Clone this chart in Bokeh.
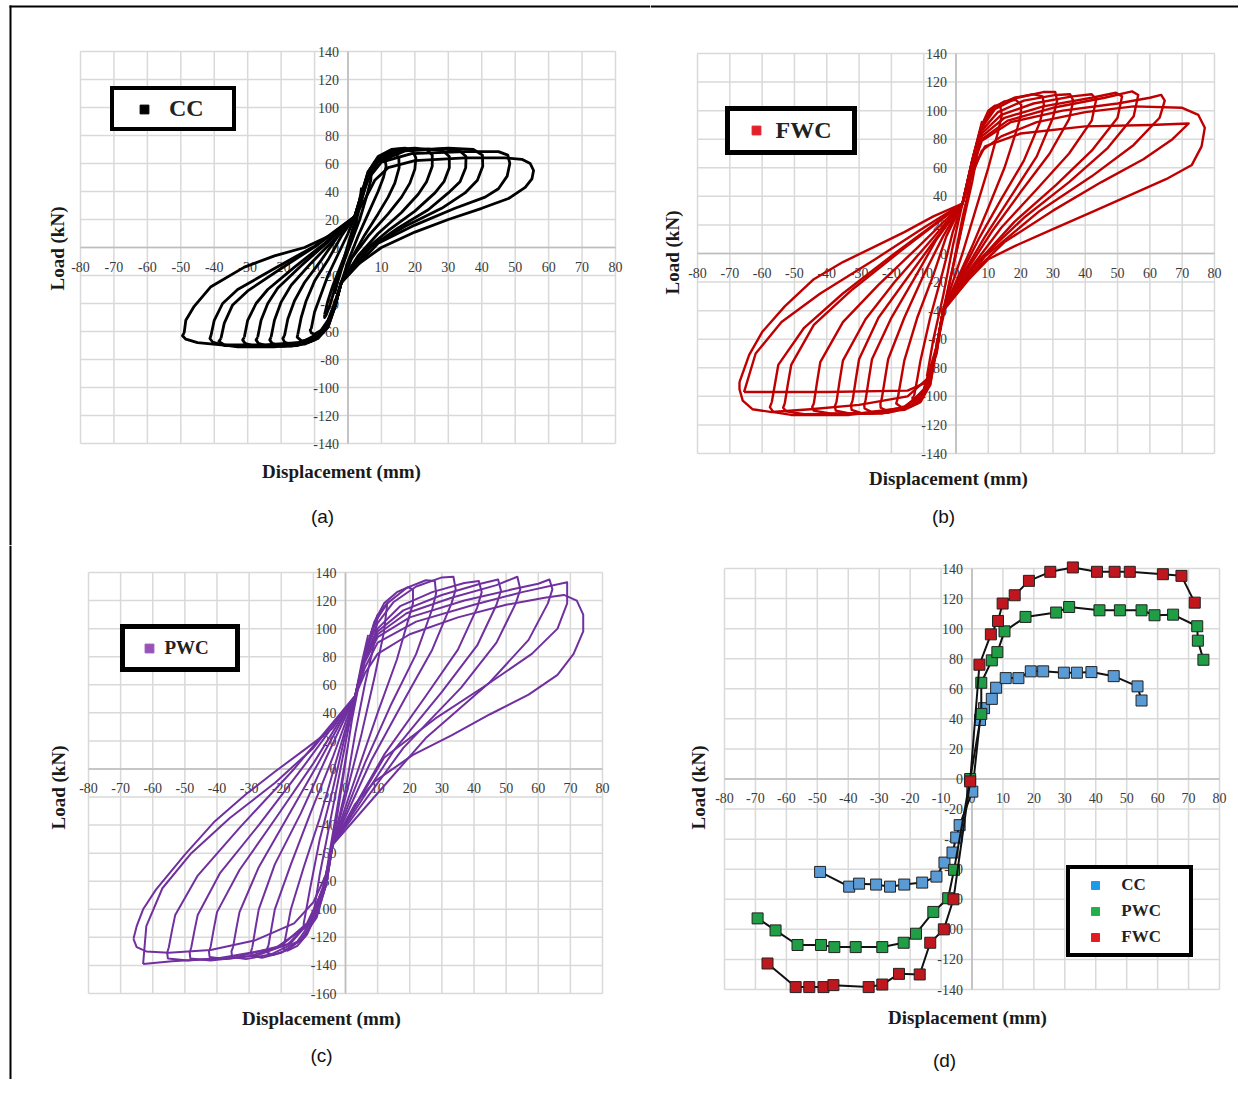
import math
from bokeh.plotting import figure
from bokeh.models import Range1d, Legend, LegendItem
from bokeh.layouts import row, column
from bokeh.embed import file_html
from bokeh.resources import INLINE
from bokeh.core.properties import value

# ---------------- data ----------------
X_TICKS = [-80, -70, -60, -50, -40, -30, -20, -10, 0, 10, 20, 30, 40, 50, 60, 70, 80]
Y_TICKS_140 = [-140, -120, -100, -80, -60, -40, -20, 0, 20, 40, 60, 80, 100, 120, 140]
Y_TICKS_C = [-160, -140, -120, -100, -80, -60, -40, -20, 0, 20, 40, 60, 80, 100, 120, 140]

# (a) CC hysteresis cycles (displacement mm, load kN)
cc_1 = [(-4,-33),(-3,-24),(-2,-16),(0,-2),(2,14),(3,28),(3.8,38),(4,42),(3.6,34),(2.5,22),(1,10),(-1,-6),(-3,-22),(-3.8,-30),(-4,-33)]
cc_2 = [(-7,-48),(-6,-38),(-4.5,-27),(-2,-12),(1,6),(3,24),(5,42),(6.5,52),(7,55),(6.8,48),(5.5,36),(3.5,20),(1,4),(-2,-14),(-4,-30),(-5.5,-42),(-6.5,-48),(-7,-50),(-7,-48)]
cc_3 = [(-11,-58),(-10,-46),(-8,-33),(-6,-20),(-3,-5),(0,10),(2,22),(4,38),(6,52),(8,61),(10,65.5),(11,64),(11.4,58),(10.6,50),(9,40),(6,24),(3,8),(0,-10),(-2,-25),(-4,-40),(-6,-52),(-8,-59),(-10,-62),(-11,-61),(-11.3,-59),(-11,-58)]
cc_4 = [(-15,-62),(-14,-50),(-12.5,-38),(-10,-24),(-6,-9),(-2,8),(2,22),(4,38),(6,54),(9,64),(12,67.5),(14,67.5),(15.2,64),(15.3,57),(14,46),(12,36),(9,24),(5,9),(1,-8),(-2,-25),(-4,-42),(-6,-56),(-9,-64),(-12,-67),(-14,-66.5),(-15.2,-64),(-15,-62)]
cc_5 = [(-19,-63),(-18,-51),(-16,-38),(-13,-25),(-8,-9),(-3,8),(2,22),(4,38),(6,54),(9,65),(13,70),(17,71),(19.3,69),(20.3,64),(20,56),(18.5,46),(16,36),(12,24),(6,8),(1,-8),(-2,-25),(-4,-43),(-6,-57),(-9,-65),(-13,-69),(-17,-69.5),(-19,-67.5),(-19.5,-65),(-19,-63)]
cc_6 = [(-23,-64),(-22,-52),(-20,-39),(-17,-27),(-11,-11),(-4,6),(2,22),(4,37),(6,53),(9,64),(14,70),(20,71),(23.5,70),(25.2,66),(25.2,58),(23.5,47),(21,38),(16,25),(9,10),(3,-6),(-2,-25),(-4,-43),(-6,-57),(-10,-66),(-15,-70),(-20,-70.5),(-22.7,-68.5),(-23.4,-66),(-23,-64)]
cc_7 = [(-27,-64),(-26,-52),(-24,-40),(-21,-29),(-14,-13),(-6,4),(2,22),(4,36),(6,52),(9,63),(15,69),(24,70.5),(28.5,69),(30.3,65),(30.3,57),(28.7,47),(26,39),(20,26),(12,12),(4,-4),(-2,-25),(-4,-43),(-7,-58),(-11,-67),(-17,-70.5),(-24,-70.5),(-26.8,-68.5),(-27.5,-66),(-27,-64)]
cc_8 = [(-31,-64),(-30,-52),(-27.5,-40),(-24,-30),(-16,-14),(-7,3),(2,22),(4,36),(6,51),(9,62),(16,69),(28,70.5),(33.5,69),(35.3,65),(35.2,57),(33.5,47),(30,39),(24,27),(15,14),(6,-1),(-2,-25),(-4,-43),(-7,-58),(-12,-67),(-19,-70.5),(-28,-70.5),(-30.8,-68.5),(-31.5,-66),(-31,-64)]
cc_9 = [(-38,-65),(-37,-54),(-34.5,-41),(-30,-31),(-20,-15),(-9,2),(2,22),(4,35),(6,50),(9,61),(17,69),(30,71),(37.5,70),(40.2,66),(40.3,58),(38.7,48),(35,39),(28,28),(17,15),(7,1),(-2,-25),(-4,-43),(-7,-59),(-13,-68),(-22,-71),(-33,-71),(-37,-69.5),(-38.6,-67),(-38,-65)]
cc_10 = [(-41,-63),(-40,-52),(-37.5,-40),(-33,-30),(-22,-15),(-10,1),(2,22),(4,34),(6,49),(10,61),(19,67),(35,68.5),(45,68.5),(47.8,66),(48.4,60),(47.6,51),(45,42),(41,36),(32,28),(20,16),(9,3),(-2,-25),(-4,-43),(-7,-59),(-14,-68),(-26,-70.5),(-37,-70),(-40.5,-67.5),(-41.3,-65),(-41,-63)]
cc_11 = [(-49,-61),(-48.5,-52),(-46,-42),(-41,-28),(-31,-14),(-22,-6),(-13,0),(-5,9),(2,22),(5,34),(8,48),(12,57),(20,62),(35,64),(47,64),(52,63),(54.5,60),(55.5,55),(55,49),(53,43),(48,35),(40,28),(30,20),(20,11),(10,0),(3,-12),(-2,-25),(-4,-40),(-6,-53),(-9,-63),(-15,-68),(-25,-69.5),(-38,-69.5),(-45,-68),(-48.5,-65.5),(-49.5,-63),(-49,-61)]
CC_CYCLES = [cc_1, cc_2, cc_3, cc_4, cc_5, cc_6, cc_7, cc_8, cc_9, cc_10, cc_11]

# (b) FWC hysteresis cycles
fwc_1 = [(-6,-65),(-4,-45),(-1,-10),(2,25),(4,45),(5,60),(4,45),(1,10),(-2,-20),(-4,-42),(-6,-65)]
fwc_2 = [(-9,-86),(-7,-60),(-4,-30),(-1,5),(2,35),(5,65),(8,92),(7,75),(5,50),(2,20),(-1,-10),(-4,-40),(-6,-65),(-8,-85),(-9,-86)]
fwc_3 = [(-13,-100),(-12,-88),(-11,-75),(-8,-45),(-4,-12),(-1,15),(2,35),(5,65),(8,90),(10,100),(12,103.5),(13.7,103),(14.2,97),(13,85),(10,60),(6,30),(2,0),(-1,-20),(-4,-40),(-6,-65),(-8,-88),(-10,-99),(-12,-103.5),(-13.3,-103),(-13.5,-101),(-13,-100)]
fwc_4 = [(-18,-101),(-17,-88),(-16,-75),(-12,-45),(-7,-15),(-3,12),(2,35),(5,65),(8,90),(11,101),(15,106.5),(18.5,107.5),(20.2,104),(20,96),(19,88),(15,60),(10,32),(5,5),(0,-20),(-4,-40),(-6,-65),(-8,-90),(-11,-102),(-14,-107),(-17,-107.5),(-18.5,-105),(-18,-101)]
fwc_5 = [(-23,-102),(-22,-88),(-21,-74),(-16,-45),(-10,-15),(-4,12),(2,35),(5,65),(8,90),(12,103),(18,109),(24,111.5),(26.8,110),(27.2,104),(26,92),(21,65),(14,38),(7,10),(1,-17),(-4,-40),(-6,-66),(-8,-92),(-11,-104),(-16,-109.5),(-21,-110.5),(-23.3,-108),(-23.4,-105),(-23,-102)]
fwc_6 = [(-28,-103),(-27,-88),(-26,-74),(-20,-45),(-13,-18),(-6,10),(2,35),(5,64),(8,88),(12,101),(19,109),(27,113),(30.7,113),(31.3,107),(30,95),(25,68),(17,40),(9,12),(2,-15),(-4,-40),(-6,-66),(-8,-92),(-12,-105),(-19,-110.5),(-26,-111),(-28.3,-108.5),(-28.4,-106),(-28,-103)]
fwc_7 = [(-32,-103),(-31,-88),(-30,-74),(-24,-45),(-16,-20),(-7,8),(2,35),(5,63),(8,86),(13,99),(21,107),(31,111),(35.3,111.5),(36.3,107),(35,94),(29,70),(20,43),(11,15),(3,-13),(-4,-40),(-6,-67),(-9,-93),(-13,-106),(-21,-111.5),(-29,-112),(-32.3,-109.5),(-32.5,-106),(-32,-103)]
fwc_8 = [(-37,-104),(-36,-89),(-35,-75),(-28,-46),(-19,-20),(-9,6),(2,35),(5,62),(8,84),(14,97),(24,105),(36,110),(42,111.5),(43.4,108),(42,93),(35,70),(25,45),(14,18),(4,-12),(-4,-40),(-6,-67),(-9,-94),(-14,-107),(-23,-112),(-33,-112),(-37.2,-110),(-37.5,-107),(-37,-104)]
fwc_9 = [(-44,-105),(-43,-90),(-42,-76),(-35,-48),(-24,-22),(-12,4),(2,35),(5,61),(8,82),(15,95),(27,103),(42,109),(49.5,112.5),(51.4,110),(50,95),(42,72),(31,48),(18,22),(6,-8),(-4,-40),(-6,-68),(-10,-95),(-15,-107),(-26,-112),(-39,-112),(-44,-110),(-44.5,-107.5),(-44,-105)]
fwc_10 = [(-53,-105),(-52,-91),(-51,-78),(-44,-50),(-32,-25),(-17,2),(2,35),(5,60),(8,80),(16,93),(30,102),(46,109),(54.5,113.5),(56.4,111),(55,96),(47,74),(35,50),(21,25),(7,-5),(-4,-40),(-6,-68),(-10,-96),(-16,-108),(-30,-112),(-47,-112.5),(-52.5,-110.5),(-53.5,-108),(-53,-105)]
fwc_11 = [(-57,-104),(-56,-91),(-55,-78),(-47,-52),(-35,-28),(-19,0),(2,35),(5,59),(8,79),(17,92),(33,100),(50,105),(60,109),(63.5,111),(64.6,107),(63,95),(55,76),(42,54),(26,30),(9,-2),(-4,-40),(-6,-69),(-10,-97),(-17,-109),(-33,-113),(-51,-113),(-56.5,-111),(-57.6,-107.5),(-57,-104)]
fwc_12 = [(-65.6,-97),(-62,-70),(-54,-48),(-42,-28),(-25,-4),(-10,18),(2,35),(5,58),(9,75),(20,84),(40,89),(60,90),(72,91),(67,80),(58,66),(45,50),(30,30),(15,8),(3,-18),(-4,-40),(-6,-70),(-9,-90),(-15,-96),(-40,-97),(-65.6,-97)]
fwc_13 = [(-67,-90),(-64,-71),(-60,-55),(-53,-37),(-44,-18),(-35,-6),(-25,5),(-16,15),(-7,26),(2,35),(5,55),(8,72),(14,82),(25,92),(40,99),(55,103),(70,102),(75,97),(77,88),(76,75),(73,62),(65,52),(53,40),(42,29),(30,17),(18,5),(10,-4),(4,-18),(-4,-40),(-6,-65),(-9,-88),(-15,-100),(-30,-106),(-45,-109),(-57,-111),(-63,-109),(-66,-103),(-67,-95),(-67,-90)]
FWC_CYCLES = [fwc_1, fwc_2, fwc_3, fwc_4, fwc_5, fwc_6, fwc_7, fwc_8, fwc_9, fwc_10, fwc_11, fwc_12, fwc_13]

# (c) PWC hysteresis cycles
pwc_1 = [(-7,-90),(-5,-60),(-2,-20),(1,20),(3,52),(5,75),(7,95),(5,70),(2,35),(-1,-10),(-4,-54),(-6,-75),(-7,-90)]
pwc_2 = [(-10,-104),(-8,-75),(-5,-40),(-2,-5),(1,30),(3,52),(6,80),(8,97),(10,110),(9,90),(6,60),(3,25),(0,-15),(-4,-54),(-6,-78),(-8,-96),(-10,-106),(-10,-104)]
pwc_3 = [(-13,-110),(-11,-85),(-8,-50),(-4,-15),(0,25),(3,52),(6,80),(9,102),(11,113),(13,118),(12,98),(9,65),(5,25),(0,-20),(-4,-54),(-6,-80),(-9,-100),(-11,-110),(-13,-114),(-13,-110)]
pwc_4 = [(-19,-124),(-18,-112),(-17,-100),(-13,-70),(-8,-35),(-3,5),(3,52),(6,82),(9,105),(12,118),(16,126),(19.5,129.5),(21,128),(21,118),(20,110),(16,78),(10,40),(4,0),(-4,-54),(-6,-80),(-9,-103),(-12,-118),(-15,-126),(-18,-129.5),(-19.4,-128),(-19,-124)]
pwc_5 = [(-24,-126),(-23,-113),(-22,-100),(-17,-68),(-11,-32),(-4,8),(3,52),(6,82),(9,104),(13,118),(19,129),(25,134.5),(27.8,134),(28.2,125),(27,114),(22,82),(14,45),(6,4),(-4,-54),(-6,-82),(-9,-105),(-13,-120),(-18,-129),(-22.5,-132.5),(-24.3,-131),(-24.4,-128),(-24,-126)]
pwc_6 = [(-29,-127),(-28,-113),(-27,-100),(-22,-68),(-14,-32),(-6,8),(3,52),(6,82),(10,104),(15,119),(22,130),(30,136.5),(33.6,137),(34.3,128),(33,118),(27,85),(18,48),(8,6),(-4,-54),(-6,-82),(-9,-106),(-14,-122),(-20,-131),(-26,-134.5),(-29.3,-133),(-29.4,-130),(-29,-127)]
pwc_7 = [(-35,-127),(-34,-114),(-33,-102),(-27,-70),(-18,-34),(-8,6),(3,52),(6,80),(10,100),(17,116),(27,126),(37,132.5),(41.5,134),(42.4,126),(41,115),(35,85),(25,52),(12,10),(-4,-54),(-6,-83),(-10,-107),(-15,-123),(-23,-132),(-31,-135.5),(-35.3,-134),(-35.5,-130),(-35,-127)]
pwc_8 = [(-42,-127),(-41,-114),(-40,-102),(-33,-72),(-22,-36),(-10,4),(3,52),(6,79),(10,98),(18,113),(30,124),(42,132),(47.5,135),(48.4,127),(47,117),(41,88),(30,55),(15,13),(-4,-54),(-7,-84),(-11,-108),(-17,-124),(-27,-132.5),(-37,-135.5),(-42.3,-134),(-42.5,-130),(-42,-127)]
pwc_9 = [(-48,-127),(-47,-115),(-46,-104),(-39,-74),(-27,-40),(-13,2),(3,52),(6,78),(10,96),(19,111),(33,122),(47,131),(53.5,137),(54.4,128),(53,118),(47,90),(36,58),(18,15),(-4,-54),(-7,-85),(-11,-109),(-18,-125),(-30,-133.5),(-42,-136.5),(-48.3,-135),(-48.5,-131),(-48,-127)]
pwc_10 = [(-55,-127),(-54,-115),(-53,-104),(-46,-76),(-33,-42),(-16,0),(3,52),(6,76),(10,94),(20,108),(37,120),(52,128),(60,132),(63.5,135),(64.4,128),(63,118),(57,92),(45,62),(25,22),(-4,-54),(-7,-86),(-12,-110),(-20,-126),(-34,-134),(-49,-136.5),(-55.3,-135),(-55.5,-131),(-55,-127)]
pwc_11 = [(-63,-139),(-62,-112),(-57,-85),(-48,-60),(-36,-35),(-22,-10),(-10,15),(3,52),(6,72),(10,90),(22,105),(40,117),(55,126),(69,133),(69,118),(66,100),(58,82),(44,60),(28,36),(12,8),(-4,-54),(-7,-88),(-12,-112),(-22,-128),(-40,-135),(-54,-137),(-63,-139)]
pwc_12 = [(-66,-121),(-65,-112),(-63,-100),(-59,-86),(-50,-61),(-41,-38),(-31,-18),(-22,-2),(-12,15),(-4,29),(3,52),(6,68),(10,82),(20,96),(35,108),(50,117),(62,122),(68,124),(72,120),(74,110),(74,98),(71,82),(66,67),(57,53),(45,39),(33,24),(21,10),(9,-9),(3,-25),(-4,-54),(-6,-75),(-10,-95),(-16,-110),(-28,-122),(-42,-129),(-55,-131),(-62,-130),(-65,-127),(-66,-121)]
PWC_CYCLES = [pwc_1, pwc_2, pwc_3, pwc_4, pwc_5, pwc_6, pwc_7, pwc_8, pwc_9, pwc_10, pwc_11, pwc_12]

# (d) envelope curves
env_cc_x = [-49.1, -39.7, -36.5, -31.0, -26.5, -21.9, -16.1, -11.5, -8.9, -6.3, -5.1, -4.0, 0.1, 2.6, 3.9, 6.4, 7.8, 10.9, 15.0, 19.0, 23.0, 29.7, 33.9, 38.6, 45.8, 53.5, 54.8]
env_cc_y = [-61.8, -71.6, -69.6, -70.2, -71.6, -70.2, -68.9, -64.9, -55.6, -48.9, -38.9, -30.7, -8.4, 39.3, 47.1, 53.3, 60.7, 67.1, 67.1, 71.6, 71.6, 70.7, 70.7, 71.1, 68.4, 61.6, 52.2]
env_pwc_x = [-69.3, -63.5, -56.4, -48.8, -44.5, -37.6, -29.0, -22.1, -18.1, -12.5, -7.7, -5.8, -0.6, 3.0, 3.0, 6.4, 8.2, 10.5, 17.3, 27.2, 31.4, 41.2, 47.8, 54.8, 59.0, 65.0, 72.8, 73.0, 74.8]
env_pwc_y = [-92.7, -100.7, -110.4, -110.4, -111.8, -111.8, -111.8, -108.9, -102.9, -88.4, -79.3, -60.4, 0.0, 43.3, 64.0, 78.9, 84.4, 98.2, 107.8, 110.7, 114.4, 112.2, 112.2, 112.2, 108.9, 109.3, 101.6, 92.0, 79.3]
env_fwc_x = [-66.1, -57.0, -52.6, -48.0, -44.8, -33.4, -29.0, -23.6, -16.9, -13.5, -9.1, -6.0, -0.6, 2.4, 6.1, 8.4, 9.9, 13.8, 18.4, 25.3, 32.6, 40.4, 46.1, 51.0, 61.7, 67.7, 72.0]
env_fwc_y = [-122.7, -138.4, -138.4, -138.4, -137.1, -138.4, -136.7, -129.6, -130.0, -108.9, -100.0, -80.0, -1.6, 76.0, 96.2, 105.1, 116.7, 122.2, 131.8, 137.8, 140.7, 137.8, 137.8, 137.8, 136.2, 135.1, 117.3]

# ---------------- style ----------------
SERIF = "Liberation Serif"
SANS = "Liberation Sans"
GRID_COLOR = "#d9d9d9"
AXIS_COLOR = "#bdbdbd"
TICK_COLOR = "#3a3a3a"
TITLE_COLOR = "#1a1a1a"


def make_panel(box, grid, ylo, yhi, yticks):
    fl, ft, fw, fh = box
    gx0, gx1, gy0, gy1 = grid
    ppx = (gx1 - gx0) / 160.0
    ppy = (gy1 - gy0) / float(yhi - ylo)
    xs = -80 - (gx0 - fl) / ppx
    xe = 80 + (fl + fw - gx1) / ppx
    ye = yhi + (gy0 - ft) / ppy
    ys = ylo - (ft + fh - gy1) / ppy
    p = figure(frame_width=fw, frame_height=fh, min_border=0,
               x_range=Range1d(xs, xe), y_range=Range1d(ys, ye),
               x_axis_location=None, y_axis_location=None,
               toolbar_location=None, output_backend="svg", title=None,
               outline_line_color=None, background_fill_color="white",
               border_fill_color="white")
    p.xgrid.visible = False
    p.ygrid.visible = False

    def X(px):
        return -80 + (px - gx0) / ppx

    def Y(py):
        return yhi - (py - gy0) / ppy

    n = len(X_TICKS)
    m = len(yticks)
    p.segment(x0=X_TICKS, y0=[ylo] * n, x1=X_TICKS, y1=[yhi] * n,
              line_color=GRID_COLOR, line_width=1.5)
    p.segment(x0=[-80] * m, y0=yticks, x1=[80] * m, y1=yticks,
              line_color=GRID_COLOR, line_width=1.5)
    p.segment(x0=[-80, 0], y0=[0, ylo], x1=[80, 0], y1=[0, yhi],
              line_color=AXIS_COLOR, line_width=1.6)
    p.text(x=X_TICKS, y=[0] * n, text=[str(t) for t in X_TICKS],
           text_font=value(SERIF), text_font_size="14px", text_color=TICK_COLOR,
           text_align="center", text_baseline="middle", y_offset=19)
    p.text(x=[0] * m, y=yticks, text=[str(t) for t in yticks],
           text_font=value(SERIF), text_font_size="14px", text_color=TICK_COLOR,
           text_align="right", text_baseline="middle", x_offset=-9)
    return p, X, Y


def add_titles(p, X, Y, load_xy, disp_xy, cap_xy, cap):
    p.text(x=[X(load_xy[0])], y=[Y(load_xy[1])], text=["Load (kN)"], angle=math.pi / 2,
           text_font=value(SERIF), text_font_style="bold", text_font_size="19px",
           text_color=TITLE_COLOR, text_align="center", text_baseline="middle")
    p.text(x=[X(disp_xy[0])], y=[Y(disp_xy[1])], text=["Displacement (mm)"],
           text_font=value(SERIF), text_font_style="bold", text_font_size="19px",
           text_color=TITLE_COLOR, text_align="center", text_baseline="middle")
    p.text(x=[X(cap_xy[0])], y=[Y(cap_xy[1])], text=[cap],
           text_font=value(SANS), text_font_size="19px",
           text_color="#111111", text_align="center", text_baseline="middle")


def add_legend(p, box, entries, outer, bw, pad, gw, gh, standoff, lw, fsize, spacing=0):
    fl, ft, fw, fh = box
    ox0, ox1, oy0, oy1 = outer
    bl = ox0 + bw / 2.0 - 2
    bb = oy1 - bw / 2.0 + 2
    items = []
    far_x = p.x_range.start - 1000
    far_y = p.y_range.start - 1000
    for label, color in entries:
        # legend swatch renderer (its only point lies far outside the visible frame)
        r = p.scatter(x=[far_x], y=[far_y], marker="square", size=9, fill_color=color, line_color=color)
        items.append(LegendItem(label=label, renderers=[r]))
    leg = Legend(items=items, location=(bl - fl, ft + fh - bb), orientation="vertical",
                 border_line_color="black", border_line_width=bw, border_line_alpha=1.0,
                 background_fill_color="white", background_fill_alpha=1.0,
                 padding=pad, spacing=spacing, margin=0,
                 glyph_width=gw, glyph_height=gh, label_standoff=standoff, label_width=lw,
                 label_text_font=SERIF, label_text_font_style="bold",
                 label_text_font_size=fsize, label_text_color="#222222")
    p.add_layout(leg)


def draw_cycles(p, cycles, color, width):
    xs = [[pt[0] for pt in c] for c in cycles]
    ys = [[pt[1] for pt in c] for c in cycles]
    p.multi_line(xs=xs, ys=ys, line_color=color, line_width=width, line_join="round")


BOX_A = (0, 0, 650, 545)
BOX_B = (650, 0, 588, 545)
BOX_C = (0, 545, 650, 534)
BOX_D = (650, 545, 588, 534)

# ---- (a) CC ----
pa, Xa, Ya = make_panel(BOX_A, (80, 615, 51, 443), -140, 140, Y_TICKS_140)
add_titles(pa, Xa, Ya, (57, 248), (341, 471), (322, 516), "(a)")
draw_cycles(pa, CC_CYCLES, "#000000", 2.8)
add_legend(pa, BOX_A, [("CC", "#000000")], (110, 238, 87, 131), 4, 5, 50, 22, 0, 58, "24px")
pa.segment(x0=[Xa(9), Xa(10)], y0=[Ya(6), Ya(5)], x1=[Xa(650), Xa(10)], y1=[Ya(6), Ya(545)],
           line_color="black", line_width=2)

# ---- (b) FWC ----
pb, Xb, Yb = make_panel(BOX_B, (697, 1214, 53, 453), -140, 140, Y_TICKS_140)
add_titles(pb, Xb, Yb, (672, 252), (948, 478), (943, 516), "(b)")
draw_cycles(pb, FWC_CYCLES, "#c00000", 2.4)
add_legend(pb, BOX_B, [("FWC", "#e3212b")], (724, 858, 108, 155), 5, 6, 40, 22, 0, 70, "24px")
pb.segment(x0=[Xb(650)], y0=[Yb(6)], x1=[Xb(1254)], y1=[Yb(6)], line_color="black", line_width=2)

# ---- (c) PWC ----
pc, Xc, Yc = make_panel(BOX_C, (88, 602, 572, 993), -160, 140, Y_TICKS_C)
add_titles(pc, Xc, Yc, (58, 787), (321, 1018), (321, 1055), "(c)")
draw_cycles(pc, PWC_CYCLES, "#7030a0", 2.0)
add_legend(pc, BOX_C, [("PWC", "#9b52b8")], (119, 239, 626, 672), 5, 8, 32, 22, 0, 62, "19px")
pc.segment(x0=[Xc(10)], y0=[Yc(545)], x1=[Xc(10)], y1=[Yc(1095)], line_color="black", line_width=2)

# ---- (d) envelopes ----
pd_, Xd, Yd = make_panel(BOX_D, (724, 1219, 568, 989), -140, 140, Y_TICKS_140)
add_titles(pd_, Xd, Yd, (698, 787), (967, 1017), (944, 1060), "(d)")
for ex, ey, col in [(env_cc_x, env_cc_y, "#5b9bd5"), (env_pwc_x, env_pwc_y, "#1f9e45"),
                    (env_fwc_x, env_fwc_y, "#c0161e")]:
    pd_.line(x=ex, y=ey, line_color="#111111", line_width=2)
    pd_.scatter(x=ex, y=ey, marker="square", size=11, fill_color=col, line_color="#222222", line_width=1)
add_legend(pd_, BOX_D, [("CC", "#1e9be6"), ("PWC", "#21b04b"), ("FWC", "#e31b23")],
           (1066, 1193, 868, 957), 4.5, 6, 38, 20, 7, 62, "17px", spacing=6)

layout = column(row(pa, pb), row(pc, pd_))
open("out.html", "w").write(file_html(layout, INLINE))
